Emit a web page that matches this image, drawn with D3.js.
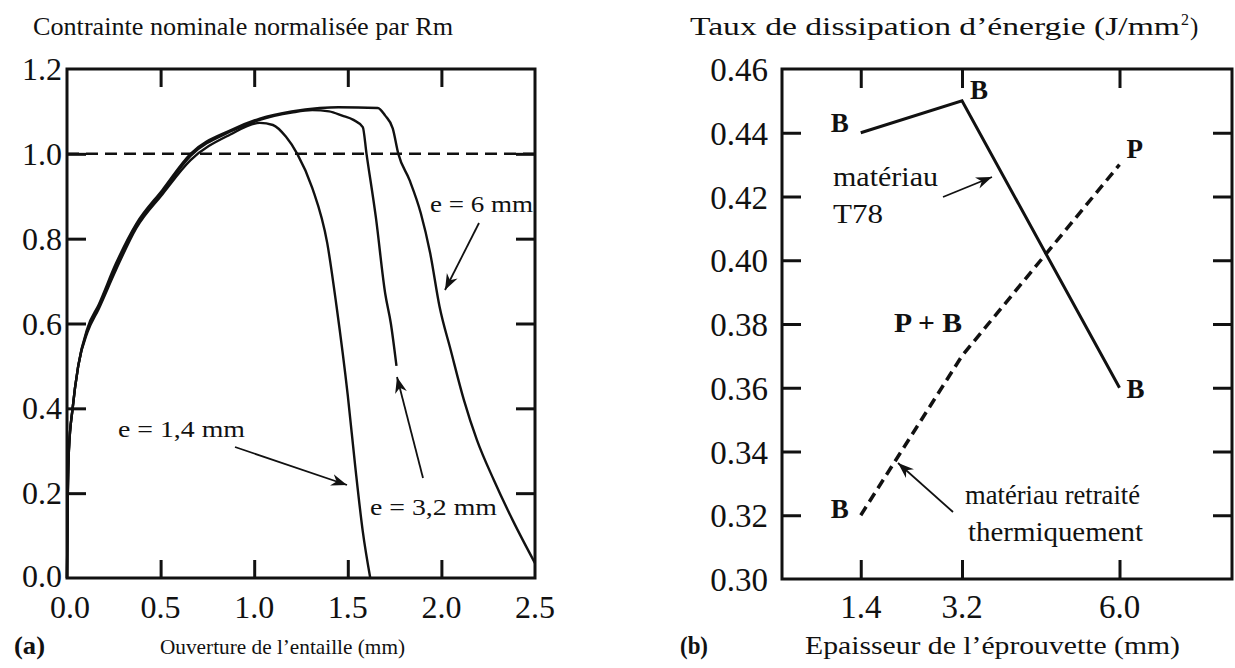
<!DOCTYPE html>
<html><head><meta charset="utf-8">
<script src="https://cdn.jsdelivr.net/npm/d3@7"></script>
<style>
html,body{margin:0;padding:0;background:#fff;}
svg text{font-family:"Liberation Serif","Times New Roman",serif;fill:#111;}
</style></head>
<body><svg id="c" width="1235" height="668"></svg>
<script>
// ---------- DATA (left panel a) ----------
const aXTicks = [0, 0.5, 1.0, 1.5, 2.0, 2.5];
const aXTickLabels = ["0.0","0.5","1.0","1.5","2.0","2.5"];
const aYTicks = [0, 0.2, 0.4, 0.6, 0.8, 1.0, 1.2];
const aYTickLabels = ["0.0","0.2","0.4","0.6","0.8","1.0","1.2"];
const aRefLine = 1.0;
const curveE14 = [[0,0],[0.003,0.15],[0.01,0.3],[0.03,0.4],[0.06,0.5],[0.11,0.58],[0.17,0.635],[0.26,0.725],[0.37,0.825],[0.51,0.905],[0.66,0.985],[0.87,1.045],[1.03,1.073],[1.10,1.068],[1.17,1.04],[1.23,1.0],[1.31,0.92],[1.39,0.79],[1.44,0.64],[1.50,0.43],[1.54,0.262],[1.58,0.11],[1.62,0.0]];
const curveE32 = [[0,0],[0.003,0.15],[0.01,0.3],[0.03,0.4],[0.06,0.5],[0.11,0.585],[0.17,0.64],[0.26,0.735],[0.37,0.832],[0.51,0.91],[0.66,0.995],[0.87,1.052],[1.03,1.08],[1.2,1.097],[1.31,1.103],[1.40,1.10],[1.47,1.09],[1.53,1.08],[1.58,1.063],[1.60,1.0],[1.65,0.85],[1.70,0.67],[1.73,0.6],[1.76,0.5]];
const curveE6 = [[0,0],[0.003,0.15],[0.01,0.3],[0.03,0.4],[0.06,0.5],[0.11,0.59],[0.17,0.645],[0.26,0.74],[0.37,0.835],[0.51,0.915],[0.66,1.0],[0.87,1.055],[1.03,1.083],[1.2,1.1],[1.35,1.108],[1.45,1.11],[1.66,1.108],[1.70,1.09],[1.74,1.06],[1.77,1.0],[1.83,0.938],[1.89,0.86],[1.94,0.766],[1.99,0.64],[2.05,0.537],[2.12,0.42],[2.19,0.325],[2.28,0.231],[2.38,0.137],[2.5,0.035]];

// ---------- DATA (right panel b) ----------
const bXTicks = [1.4, 3.2, 6.0];
const bXTickLabels = ["1.4","3.2","6.0"];
const bYTicks = [0.30,0.32,0.34,0.36,0.38,0.40,0.42,0.44,0.46];
const bYTickLabels = ["0.30","0.32","0.34","0.36","0.38","0.40","0.42","0.44","0.46"];
const thickness = [1.4, 3.2, 6.0];
const energyT78 = [0.44, 0.45, 0.36];
const energyRetraite = [0.32, 0.37, 0.43];
const labelsT78 = ["B","B","B"];
const labelsRetraite = ["B","P + B","P"];

const svg = d3.select("#c");
const defs = svg.append("defs");
defs.append("marker").attr("id","arr").attr("viewBox","-16 -7 18 14")
  .attr("refX",0).attr("refY",0).attr("markerWidth",18).attr("markerHeight",14)
  .attr("markerUnits","userSpaceOnUse").attr("orient","auto")
  .append("path").attr("d","M0,0 L-16,-6 L-11,0 L-16,6 Z").attr("fill","#111");

function styleAxis(g){
  g.select(".domain").remove();
  g.selectAll(".tick line").attr("stroke","#111").attr("stroke-width",3);
}
function ann(g,t,x,y,fs,weight,len){
  const s = g.append("text").attr("x",x).attr("y",y).attr("font-size",fs)
    .attr("font-weight",weight||"normal").text(t);
  if(len) s.attr("textLength",len).attr("lengthAdjust","spacingAndGlyphs");
  return s;
}
function arrow(g,x1,y1,x2,y2){
  g.append("line").attr("x1",x1).attr("y1",y1).attr("x2",x2).attr("y2",y2)
    .attr("stroke","#111").attr("stroke-width",1.8).attr("marker-end","url(#arr)");
}
const TICKFS = 32;

// ---------- PANEL A ----------
const A = {l:67, r:535, t:69, b:578};
const ax = d3.scaleLinear().domain([0,2.5]).range([A.l,A.r]);
const ay = d3.scaleLinear().domain([0,1.2]).range([A.b,A.t]);
const gA = svg.append("g");
const aIn = aXTicks.slice(1,-1), aInY = aYTicks.slice(1,-1);
gA.append("g").attr("transform",`translate(0,${A.b})`)
  .call(d3.axisBottom(ax).tickValues(aIn).tickSize(-18).tickFormat("")).call(styleAxis);
gA.append("g").attr("transform",`translate(0,${A.t})`)
  .call(d3.axisTop(ax).tickValues(aIn).tickSize(-18).tickFormat("")).call(styleAxis);
gA.append("g").attr("transform",`translate(${A.l},0)`)
  .call(d3.axisLeft(ay).tickValues(aInY).tickSize(-19).tickFormat("")).call(styleAxis);
gA.append("g").attr("transform",`translate(${A.r},0)`)
  .call(d3.axisRight(ay).tickValues(aInY).tickSize(-19).tickFormat("")).call(styleAxis);
gA.selectAll(".xl").data(aXTicks).join("text")
  .attr("x",d=>ax(d)+(d===0?3:0)).attr("y",A.b+40).attr("text-anchor","middle")
  .attr("font-size",TICKFS).text((d,i)=>aXTickLabels[i]);
gA.selectAll(".yl").data(aYTicks).join("text")
  .attr("x",A.l-5).attr("y",d=>ay(d)+(d===0?9:11)).attr("text-anchor","end")
  .attr("font-size",TICKFS).text((d,i)=>aYTickLabels[i]);
gA.append("line").attr("x1",A.l).attr("x2",A.r).attr("y1",ay(aRefLine)).attr("y2",ay(aRefLine))
  .attr("stroke","#111").attr("stroke-width",2.5).attr("stroke-dasharray","12,7");
const lineA = d3.line().x(d=>ax(d[0])).y(d=>ay(d[1])).curve(d3.curveMonotoneX);
[curveE14, curveE32, curveE6].forEach(c=>{
  gA.append("path").attr("d",lineA(c)).attr("fill","none").attr("stroke","#111").attr("stroke-width",2.4);
});
gA.append("rect").attr("x",A.l).attr("y",A.t).attr("width",A.r-A.l).attr("height",A.b-A.t)
  .attr("fill","none").attr("stroke","#111").attr("stroke-width",3);
ann(gA,"e = 6 mm",430,212,24,null,103);
arrow(gA,479,223,445,290);
ann(gA,"e = 3,2 mm",370,515,24,null,127);
arrow(gA,423,478,397,377);
ann(gA,"e = 1,4 mm",118,437,24,null,127);
arrow(gA,235,447,347,485);
ann(svg,"Contrainte nominale normalisée par Rm",33,35,25,null,420);
ann(svg,"(a)",14,654,25,"bold",31);
ann(svg,"Ouverture de l’entaille (mm)",160,654,21,null,245);

// ---------- PANEL B ----------
const B = {l:782, r:1232, t:69, b:579};
const bx = d3.scaleLinear().domain([0,8]).range([B.l,B.r]);
const by = d3.scaleLinear().domain([0.30,0.46]).range([B.b,B.t]);
const gB = svg.append("g");
const bInY = bYTicks.slice(1,-1);
gB.append("g").attr("transform",`translate(0,${B.b})`)
  .call(d3.axisBottom(bx).tickValues(bXTicks).tickSize(-19).tickFormat("")).call(styleAxis);
gB.append("g").attr("transform",`translate(0,${B.t})`)
  .call(d3.axisTop(bx).tickValues(bXTicks).tickSize(-19).tickFormat("")).call(styleAxis);
gB.append("g").attr("transform",`translate(${B.l},0)`)
  .call(d3.axisLeft(by).tickValues(bInY).tickSize(-19).tickFormat("")).call(styleAxis);
gB.append("g").attr("transform",`translate(${B.r},0)`)
  .call(d3.axisRight(by).tickValues(bInY).tickSize(-19).tickFormat("")).call(styleAxis);
gB.selectAll(".xl").data(bXTicks).join("text")
  .attr("x",d=>bx(d)).attr("y",B.b+39).attr("text-anchor","middle")
  .attr("font-size",33).text((d,i)=>bXTickLabels[i]);
gB.selectAll(".yl").data(bYTicks).join("text")
  .attr("x",B.l-14).attr("y",d=>by(d)+12).attr("text-anchor","end")
  .attr("font-size",33).text((d,i)=>bYTickLabels[i]);
const lineB = d3.line().x(d=>bx(d[0])).y(d=>by(d[1]));
gB.append("path").attr("d",lineB(thickness.map((t,i)=>[t,energyT78[i]])))
  .attr("fill","none").attr("stroke","#111").attr("stroke-width",3);
gB.append("path").attr("d",lineB(thickness.map((t,i)=>[t,energyRetraite[i]])))
  .attr("fill","none").attr("stroke","#111").attr("stroke-width",3.5).attr("stroke-dasharray","10,6");
gB.append("rect").attr("x",B.l).attr("y",B.t).attr("width",B.r-B.l).attr("height",B.b-B.t)
  .attr("fill","none").attr("stroke","#111").attr("stroke-width",3);
const offT78 = [[-30,-1],[8,-2],[7,10]];
const offRet = [[-30,3],[-68,-24],[7,-7]];
labelsT78.forEach((t,i)=>ann(gB,t,bx(thickness[i])+offT78[i][0],by(energyT78[i])+offT78[i][1],27,"bold"));
labelsRetraite.forEach((t,i)=>ann(gB,t,bx(thickness[i])+offRet[i][0],by(energyRetraite[i])+offRet[i][1],27,"bold",t.length>1?68:null));
ann(gB,"matériau",833,186,27,null,105);
ann(gB,"T78",833,223,27,null,50);
arrow(gB,943,197,992,177);
ann(gB,"matériau retraité",965,504,27,null,175);
ann(gB,"thermiquement",968,541,27,null,175);
arrow(gB,953,512,898,463);
ann(svg,"Taux de dissipation d’énergie (J/mm",690,35,25,null,490);
ann(svg,"2",1181,25,16);
ann(svg,")",1190,35,25);
ann(svg,"(b)",680,654,25,"bold",28);
ann(svg,"Epaisseur de l’éprouvette (mm)",805,654,25,null,375);
</script></body></html>
